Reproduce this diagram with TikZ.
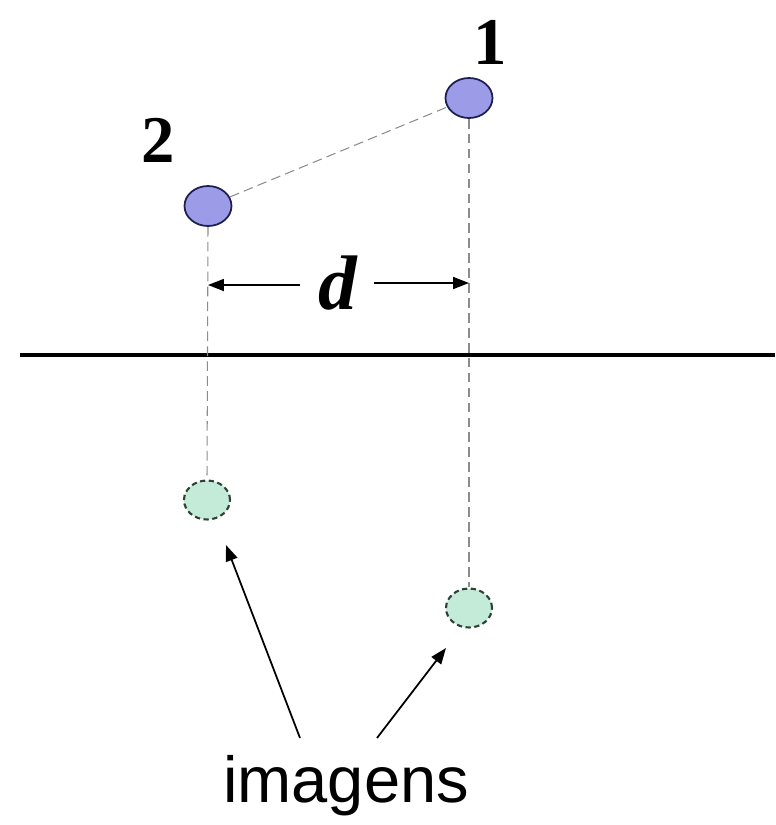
\documentclass[tikz,border=0pt]{standalone}
\usepackage{fontspec}
\setmainfont{Liberation Serif}
\newfontfamily\labelsans{Liberation Sans}
\usetikzlibrary{arrows.meta,positioning,shapes.geometric}
\definecolor{chargeblue}{RGB}{155,155,232}
\definecolor{chargeline}{RGB}{30,30,80}
\definecolor{imagegreen}{RGB}{196,234,216}
\definecolor{imageline}{RGB}{45,65,55}

\begin{document}
\begin{tikzpicture}[
  x=0.02cm, y=-0.02cm,
  charge/.style={ellipse, draw=chargeline, fill=chargeblue, line width=1pt,
                 minimum width=0.94cm, minimum height=0.8cm, inner sep=0pt},
  image/.style={ellipse, draw=imageline, fill=imagegreen, line width=1.2pt,
                dash pattern=on 3pt off 2pt,
                minimum width=0.92cm, minimum height=0.78cm, inner sep=0pt},
  guide/.style={draw=black!45, line width=0.6pt, dash pattern=on 5.5pt off 3pt},
  num/.style={font=\fontsize{38}{42}\selectfont\bfseries, inner sep=0pt},
  flow/.style={-{Triangle[length=0.32cm, width=0.24cm]}, line width=1pt}
]
\useasboundingbox (0,0) rectangle (775,825);

% real charges
\node[charge] (q1) at (469,98) {};
\node[charge] (q2) at (208,206) {};
\node[num] (lab1) at (490,42) {1};
\node[num] (lab2) at (158,140) {2};

% conducting plane
\draw[line width=2.4pt] (20,355) -- (775,355);

% image charges
\node[image] (im2) at (207,500) {};
\node[image] (im1) at (469,608) {};

% construction lines
\draw[guide] (q2) -- (q1);
\draw[guide] (q2.south) -- (im2.north);
\draw[guide] (q1.south) -- (im1.north);

% separation d
\node[font=\fontsize{44}{48}\selectfont\bfseries\itshape, inner sep=0pt] (dist) at (338,283) {d};
\coordinate (dleft) at (300,285);
\coordinate (dright) at (374,283);
\draw[flow] (dleft) -- (dleft -| q2);
\draw[flow] (dright) -- (dright -| q1);

% label
\node[font=\labelsans\fontsize{37}{42}\selectfont, inner sep=0pt] (imlabel) at (346,786) {imagens};
\coordinate (from2) at (300,738);
\coordinate (to2) at (226,545);
\coordinate (from1) at (377,738);
\coordinate (to1) at (446,648);
\draw[flow] (from2) -- (to2);
\draw[flow] (from1) -- (to1);
\end{tikzpicture}
\end{document}
